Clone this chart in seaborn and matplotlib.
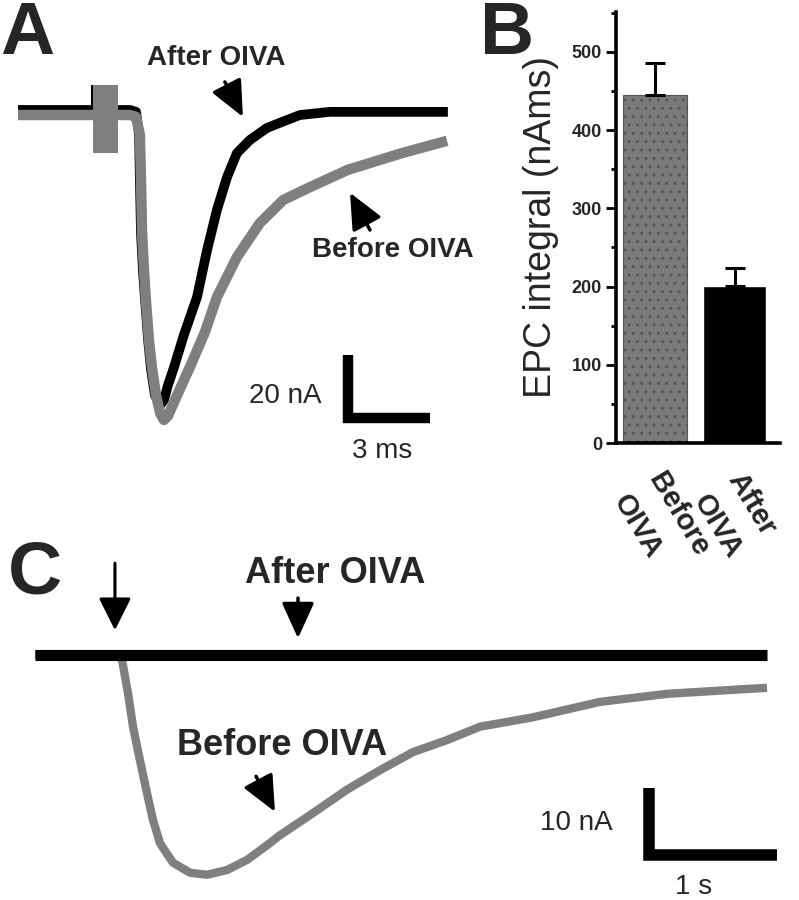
import matplotlib
matplotlib.use('Agg')
import matplotlib.pyplot as plt
import matplotlib.transforms as mtransforms
import seaborn as sns

# ---- panel A: EPC traces (time in ms, current in nA, baseline = 0)
a_after_t = [0.00, 4.10, 4.32, 4.43, 4.46, 4.50, 4.57, 4.65, 4.76, 4.87, 5.01, 5.20, 5.34, 5.49,
             5.71, 6.07, 6.55, 6.92, 7.28, 7.65, 8.01, 8.49, 9.11, 9.84, 10.32, 11.42, 15.73]
a_after_i = [0.0, 0.0, -0.6, -7.9, -22.2, -39.0, -50.8, -60.3, -73.0, -82.5, -90.5, -93.7, -92.1, -87.3,
             -81.6, -71.4, -59.4, -44.4, -31.7, -21.3, -13.7, -9.5, -5.7, -3.2, -1.6, -0.6, -0.6]
a_before_t = [0.00, 4.10, 4.32, 4.46, 4.50, 4.54, 4.61, 4.68, 4.79, 4.90, 5.05, 5.20, 5.34, 5.49,
              5.74, 6.29, 6.84, 7.28, 8.01, 8.85, 9.70, 10.61, 12.07, 14.05, 15.70]
a_before_i = [-1.6, -1.6, -2.2, -7.9, -22.2, -39.0, -50.8, -60.3, -73.0, -81.6, -90.5, -96.2, -98.4, -97.1,
              -92.1, -81.6, -70.5, -59.4, -46.7, -35.9, -28.6, -24.8, -19.0, -13.7, -9.8]
a_artifact_t = [2.74, 3.66]
a_artifact_range = [-13.7, 7.9]
a_spike_t = [2.67, 2.96]

# ---- panel B: EPC integral (nA ms)
b_conditions = ['Before\nOIVA', 'After\nOIVA']
b_means = [445, 201]
b_sem = [41, 23]

# ---- panel C: slow currents (time in s, current in nA)
c_after_t = [0.0, 1.0, 2.0, 3.0, 4.0, 5.0, 5.72]
c_after_i = [0.0, 0.0, 0.0, 0.0, 0.0, 0.0, 0.0]
c_before_t = [0.0, 0.648, 0.680, 0.727, 0.766, 0.820, 0.875, 0.922, 0.977, 1.078, 1.211, 1.344,
              1.500, 1.656, 1.813, 1.914, 2.172, 2.438, 2.695, 2.953, 3.219, 3.477, 3.891,
              4.414, 4.938, 5.453, 5.719]
c_before_i = [0.0, 0.0, -0.7, -5.7, -10.7, -15.7, -20.6, -24.6, -28.1, -31.0, -32.5, -32.8,
              -32.1, -30.6, -28.4, -26.9, -23.6, -20.1, -17.2, -14.5, -12.7, -10.7, -9.3,
              -7.0, -5.8, -5.2, -4.9]

GRAY = '#7f7f7f'

sns.set_style('white')
plt.rcParams['font.family'] = ['Liberation Sans', 'DejaVu Sans']
plt.rcParams['hatch.color'] = '#5e5e5e'

fig = plt.figure(figsize=(7.99, 9), dpi=100)
axA = fig.add_axes([0, 1 - 460 / 900, 470 / 799, 460 / 900])
axB = fig.add_axes([616 / 799, 1 - 443 / 900, 164 / 799, 431 / 900])
axC = fig.add_axes([0, 0, 1, 360 / 900])

arrow_kw = dict(arrowstyle='-|>,head_length=1.1,head_width=0.5', color='k', lw=2.5,
                mutation_scale=20, shrinkA=0, shrinkB=0)

# ---------------- A
sns.lineplot(x=a_after_t, y=a_after_i, ax=axA, color='k', lw=7, sort=False, estimator=None)
axA.fill_between(a_spike_t, 0, a_artifact_range[1], color='k', lw=0)
axA.fill_between(a_artifact_t, a_artifact_range[0], a_artifact_range[1], color=GRAY, lw=0, zorder=3)
sns.lineplot(x=a_before_t, y=a_before_i, ax=axA, color=GRAY, lw=7.5, sort=False, estimator=None)
for l in axA.lines:
    l.set_solid_capstyle('butt')
    l.set_solid_joinstyle('round')
axA.set_xlim(-0.659, 16.54)
axA.set_ylim(-111.1, 34.9)
axA.axis('off')

axA.plot([12.07, 12.07, 15.07], [-77.8, -97.8, -97.8], color='k', lw=7.5,
         solid_joinstyle='miter', solid_capstyle='butt')
axA.text(11.12, -93.0, '20 nA', fontsize=20, ha='right', va='baseline')
axA.text(13.31, -110.5, '3 ms', fontsize=20, ha='center', va='baseline')
axA.text(7.26, 14.3, 'After OIVA', fontsize=20, fontweight='bold', ha='center', va='baseline')
axA.text(10.76, -46.7, 'Before OIVA', fontsize=20, fontweight='bold', ha='left', va='baseline')
axA.annotate('', xy=(8.23, -2.2), xytext=(7.57, 8.9), arrowprops=arrow_kw)
axA.annotate('', xy=(12.15, -26.3), xytext=(12.88, -38.1), arrowprops=arrow_kw)

# ---------------- B
sns.barplot(x=b_conditions, y=b_means, hue=b_conditions, palette=['#7a7a7a', 'k'],
            ax=axB, width=0.8, legend=False, errorbar=None, saturation=1)
axB.patches[0].set_hatch('..')
axB.patches[0].set_edgecolor('#555555')
axB.patches[0].set_linewidth(0.8)
axB.errorbar([0, 1], b_means, yerr=[[0, 0], b_sem], fmt='none', ecolor='k',
             elinewidth=2.2, capsize=7, capthick=2.2, zorder=5)
axB.set_xlim(-0.49, 1.572)
axB.set_ylim(0, 551)
sns.despine(ax=axB)
for s in ['left', 'bottom']:
    axB.spines[s].set_linewidth(2.6)
    axB.spines[s].set_color('k')
axB.set_yticks(range(0, 501, 100), labels=[str(v) for v in range(0, 501, 100)],
               fontsize=13, fontweight='bold')
axB.set_yticks(range(50, 551, 100), minor=True)
axB.tick_params(axis='y', which='major', direction='out', length=7, width=2, pad=3, left=True, color='k')
axB.tick_params(axis='y', which='minor', direction='out', length=3.5, width=2, left=True, color='k')
axB.set_xticks([0, 1], labels=b_conditions, rotation=-59, ha='left', va='top',
               rotation_mode='anchor', fontsize=21, fontweight='bold', linespacing=1.6)
axB.tick_params(axis='x', length=0, pad=18)
shift = mtransforms.ScaledTranslation(0.12, 0, fig.dpi_scale_trans)
for lbl in axB.get_xticklabels():
    lbl.set_transform(lbl.get_transform() + shift)
axB.set_ylabel('EPC integral (nAms)', fontsize=27, labelpad=9)
axB.set_xlabel('')

# ---------------- C
sns.lineplot(x=c_before_t, y=c_before_i, ax=axC, color=GRAY, lw=6, sort=False, estimator=None)
sns.lineplot(x=c_after_t, y=c_after_i, ax=axC, color='k', lw=8, sort=False, estimator=None)
for l in axC.lines:
    l.set_solid_capstyle('butt')
    l.set_solid_joinstyle('round')
axC.set_xlim(-0.273, 5.969)
axC.set_ylim(-36.57, 17.16)
axC.axis('off')

axC.plot([4.797, 4.797, 5.797], [-19.85, -29.85, -29.85], color='k', lw=8.3,
         solid_joinstyle='miter', solid_capstyle='butt')
axC.text(4.516, -26.1, '10 nA', fontsize=20, ha='right', va='baseline')
axC.text(5.148, -35.6, '1 s', fontsize=20, ha='center', va='baseline')
axC.text(2.344, 10.75, 'After OIVA', fontsize=26, fontweight='bold', ha='center', va='baseline')
axC.text(1.934, -14.9, 'Before OIVA', fontsize=26, fontweight='bold', ha='center', va='baseline')
axC.annotate('', xy=(0.625, 3.7), xytext=(0.625, 13.7),
             arrowprops=dict(arrowstyle='-|>,head_length=1.0,head_width=0.5', color='k', lw=2.2,
                             mutation_scale=20, shrinkA=0, shrinkB=0))
axC.annotate('', xy=(2.055, 2.5), xytext=(2.055, 8.5), arrowprops=arrow_kw)
axC.annotate('', xy=(1.875, -23.4), xytext=(1.727, -18.1), arrowprops=arrow_kw)

# panel letters
for x, y, s in [(0.0, 1.0, 'A'), (480 / 799, 1.0, 'B'), (8 / 799, 1 - 540 / 900, 'C')]:
    fig.text(x, y, s, fontsize=54, fontweight='bold', ha='left', va='top')

fig.savefig('out.png', dpi=100)
